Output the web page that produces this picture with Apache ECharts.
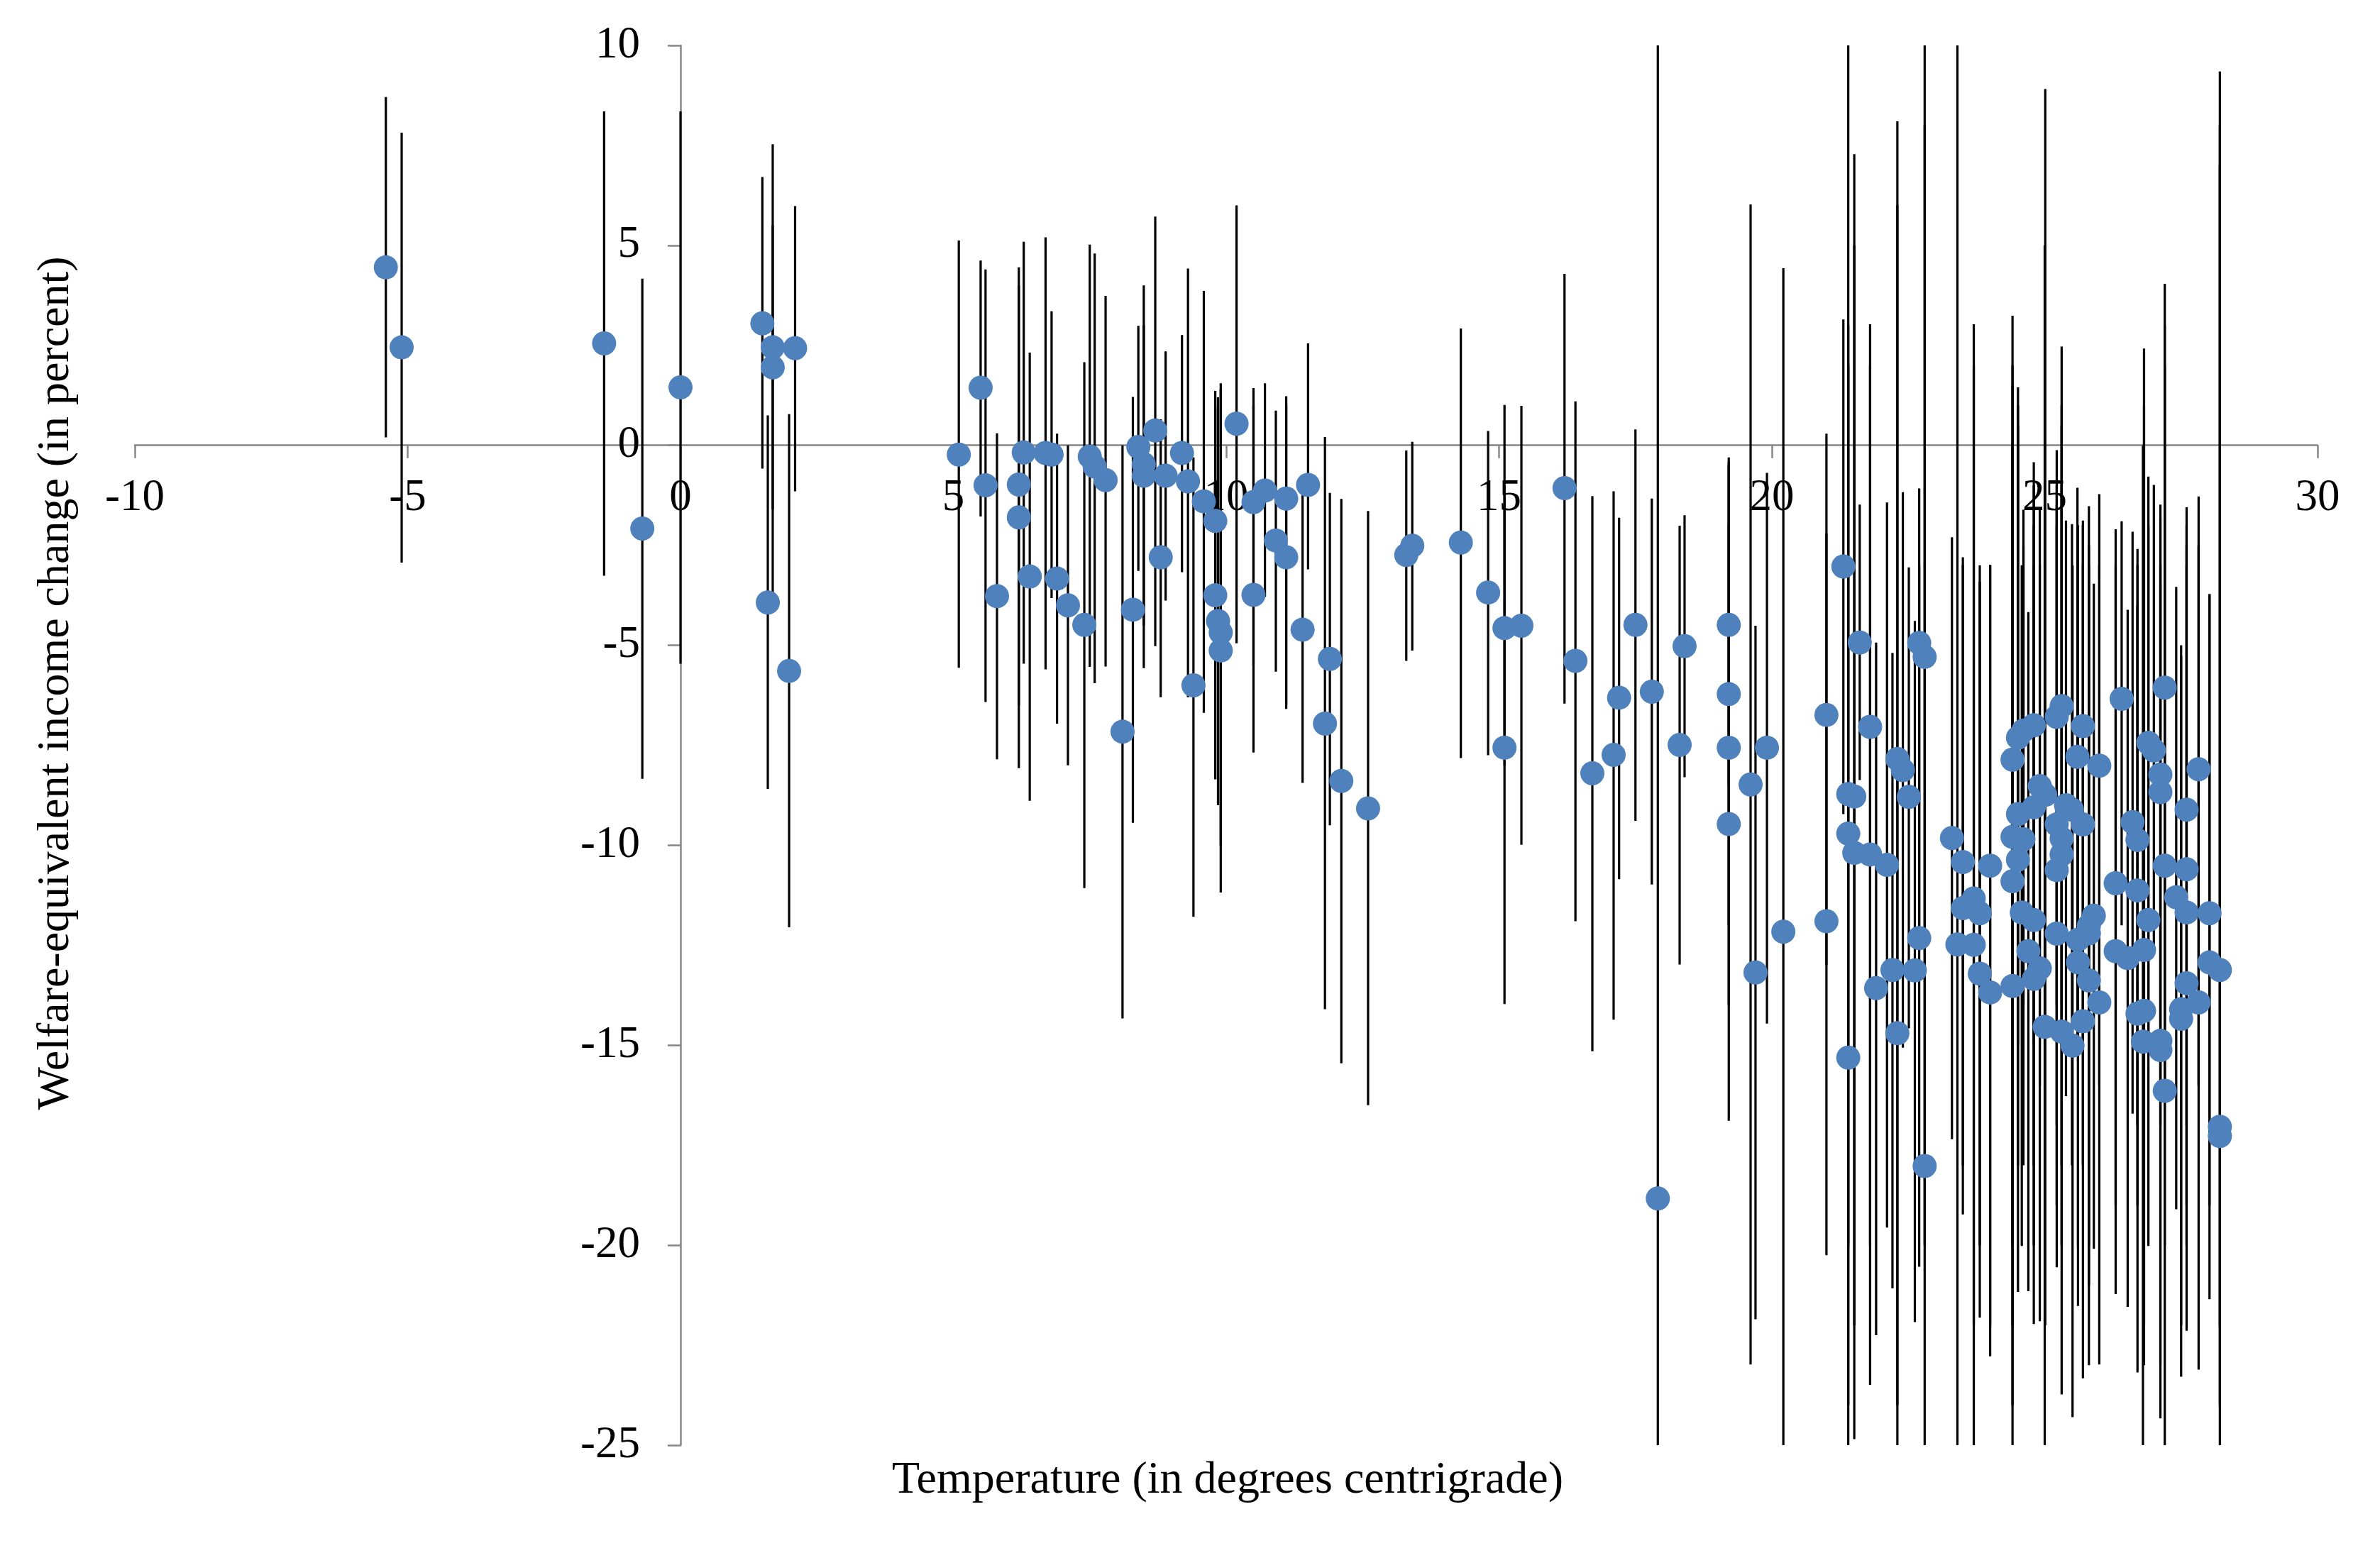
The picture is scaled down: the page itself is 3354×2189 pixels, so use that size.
<!DOCTYPE html>
<html>
<head>
<meta charset="utf-8">
<script src="https://cdn.jsdelivr.net/npm/echarts@6/dist/echarts.min.js"></script>
<style>
html,body{margin:0;padding:0;background:#fff;}
#chart{width:3354px;height:2189px;}
</style>
</head>
<body>
<div id="chart"></div>
<script>
// Temperature (degrees C)
const temperature = [
-5.40,-5.11,-1.40,-0.70,0.00,1.50,1.60,1.69,1.69,1.99,2.10,
5.10,5.50,5.59,5.80,6.20,6.20,6.29,6.40,6.69,6.80,6.90,7.10,7.40,7.50,7.59,7.79,
8.10,8.29,8.39,8.49,8.49,8.70,8.80,8.89,9.19,9.30,9.40,9.59,9.80,9.80,9.85,9.90,9.90,
10.19,10.50,10.50,10.71,10.91,11.10,11.10,11.40,11.50,11.81,11.90,12.11,12.60,13.30,13.41,
14.30,14.80,15.10,15.10,15.41,16.20,16.40,16.71,17.10,17.20,17.50,17.80,17.91,18.31,18.40,
19.21,19.21,19.21,19.21,19.61,19.70,19.91,20.21,21.00,21.00,
21.31,21.40,21.40,21.40,21.51,21.51,21.61,21.80,21.80,21.91,22.11,22.21,22.30,22.30,22.40,22.51,22.62,
22.70,22.70,22.80,22.80,23.30,23.40,23.50,23.50,23.70,23.70,23.81,23.81,24.00,24.00,
24.41,24.41,24.41,24.41,24.51,24.51,24.51,24.61,24.61,24.58,24.70,24.80,24.80,24.80,24.80,24.91,24.91,
25.01,25.00,25.22,25.22,25.22,25.22,25.31,25.31,25.31,25.31,25.39,25.50,25.51,25.60,25.61,25.61,
25.70,25.70,25.70,25.81,25.81,25.81,25.90,26.00,26.00,26.30,26.30,26.41,26.52,26.61,26.70,26.70,26.70,
26.82,26.82,26.80,26.90,26.90,27.00,27.12,27.12,27.12,27.12,27.20,27.20,27.20,27.41,27.50,27.50,
27.60,27.60,27.60,27.60,27.82,27.82,28.02,28.02,28.21,28.21,28.21
];
// Welfare-equivalent income change (percent)
const welfareChange = [
4.45,2.45,2.55,-2.08,1.45,3.05,-3.93,2.45,1.95,-5.64,2.43,
-0.23,1.44,-1.00,-3.77,-0.98,-1.80,-0.18,-3.28,-0.19,-0.23,-3.33,-4.00,-4.49,-0.28,-0.53,-0.87,
-7.16,-4.11,-0.04,-0.47,-0.76,0.37,-2.80,-0.76,-0.19,-0.90,-6.00,-1.40,-1.89,-3.75,-4.39,-4.68,-5.13,
0.54,-1.42,-3.74,-1.13,-2.38,-1.33,-2.80,-4.61,-0.99,-6.96,-5.34,-8.39,-9.08,-2.74,-2.51,
-2.43,-3.68,-4.57,-7.56,-4.51,-1.07,-5.39,-8.20,-7.74,-6.31,-4.49,-6.16,-18.83,-7.49,-5.02,
-4.49,-6.22,-7.56,-9.47,-8.48,-13.18,-7.56,-12.16,-6.74,-11.90,
-3.03,-8.72,-9.71,-15.31,-8.78,-10.19,-4.93,-7.04,-10.23,-13.57,-10.49,-13.12,-7.84,-14.70,-8.12,-8.79,-13.13,
-4.94,-12.32,-5.29,-18.02,-9.82,-12.48,-10.42,-11.57,-11.33,-12.49,-11.70,-13.21,-10.51,-13.68,
-7.86,-9.79,-10.90,-13.52,-7.31,-9.22,-10.36,-7.13,-9.85,-11.68,-12.65,-7.00,-9.05,-11.87,-13.34,-8.52,-13.08,
-8.74,-14.54,-6.79,-9.48,-10.62,-12.21,-6.52,-9.83,-10.23,-14.66,-9.00,-9.11,-15.01,-7.79,-12.36,-12.93,
-7.02,-9.48,-14.40,-12.01,-12.20,-13.38,-11.76,-8.01,-13.93,-10.95,-12.65,-6.34,-12.82,-9.42,-9.87,-11.13,-14.21,
-12.62,-14.14,-14.91,-7.44,-11.87,-7.63,-8.23,-8.67,-14.89,-15.12,-6.06,-10.51,-16.14,-11.30,-14.10,-14.34,
-9.11,-10.60,-11.68,-13.45,-8.10,-13.93,-11.70,-12.93,-13.12,-17.04,-17.27
];
// Upper end of the interval
const upperBound = [
8.71,7.82,8.35,4.17,8.35,6.71,0.75,7.53,5.50,0.78,5.98,
5.12,4.62,4.40,0.30,4.45,4.00,5.09,2.32,5.20,3.35,0.29,0.00,2.08,5.02,4.80,3.74,
0.00,1.21,2.99,4.00,3.00,5.72,0.65,2.35,2.76,4.42,-0.30,3.86,1.36,1.00,1.20,1.40,1.55,
6.00,1.43,1.00,1.55,0.87,1.23,1.00,-1.00,2.55,0.21,-1.19,-1.34,-1.64,-0.13,0.09,
2.92,0.36,1.01,-1.00,0.99,4.29,1.10,-1.27,-1.15,-1.81,0.40,-1.33,10,-2.01,-1.75,
-0.41,-0.50,-0.30,-2.00,6.02,-4.51,-0.69,4.43,0.29,-2.20,
3.15,10,3.00,2.00,7.28,5.00,-1.48,3.03,2.00,-4.93,-1.43,-5.19,8.10,6.00,-1.17,-3.05,-4.39,
-1.08,-3.00,10,8.00,-2.30,10,-2.80,-3.00,3.03,2.00,-3.41,-3.00,-2.99,-3.00,
3.24,2.00,1.50,0.00,1.45,0.50,1.00,-1.61,-2.50,-3.00,-4.17,-0.42,-1.00,-2.00,-3.00,-1.61,-3.00,
8.91,5.00,-0.12,-1.00,-1.50,-2.00,2.47,1.00,0.50,-1.00,-1.88,-1.97,-3.00,-1.06,-2.00,-3.00,
-1.88,-2.00,-3.00,-1.52,-2.50,-3.00,-3.46,-1.22,-3.00,-2.10,-3.00,-1.90,-4.11,-2.16,-2.59,-3.00,-4.00,
2.42,1.00,0.00,-0.78,-2.00,-0.99,-1.48,-1.80,-3.00,-3.50,4.04,3.00,2.00,-3.54,-5.27,-5.00,
-1.55,-2.00,-2.50,-3.00,-1.28,-2.50,-3.72,-3.72,9.35,8.00,7.00
];
// Lower end of the interval
const lowerBound = [
0.20,-2.93,-3.26,-8.34,-5.46,-0.58,-8.59,-3.70,-1.60,-12.05,-1.15,
-5.56,-1.78,-6.42,-7.85,-6.50,-8.07,-5.46,-8.89,-5.60,-3.82,-6.96,-8.00,-11.07,-5.54,-5.95,-5.53,
-14.33,-9.44,-3.14,-5.57,-4.50,-5.02,-6.30,-3.88,-3.17,-6.30,-11.79,-6.69,-5.50,-8.35,-9.00,-10.00,-11.18,
-4.95,-5.50,-7.68,-3.79,-5.66,-6.59,-6.50,-8.44,-3.10,-14.10,-9.50,-15.45,-16.50,-5.39,-5.13,
-7.82,-7.75,-8.00,-13.97,-9.99,-6.46,-11.90,-15.15,-14.36,-10.85,-9.39,-10.98,-25,-12.98,-8.30,
-8.50,-12.00,-14.00,-16.89,-22.98,-21.85,-14.46,-25,-13.00,-20.25,
-9.22,-25,-20.00,-24.00,-24.85,-22.00,-8.37,-23.49,-20.00,-22.25,-19.56,-21.08,-25,-24.00,-15.06,-14.58,-21.92,
-12.00,-20.54,-20.00,-25,-17.35,-25,-19.23,-18.00,-25,-22.00,-20.00,-21.81,-22.78,-22.00,
-25,-20.00,-22.00,-24.00,-15.00,-18.00,-21.17,-14.00,-18.00,-20.02,-21.15,-15.00,-18.00,-20.00,-21.97,-16.00,-21.90,
-22.00,-25,-14.00,-17.00,-19.00,-20.55,-15.00,-18.00,-20.00,-23.73,-16.27,-18.00,-24.30,-15.00,-20.00,-21.52,
-15.00,-18.00,-23.33,-20.00,-21.00,-23.00,-20.09,-16.00,-22.98,-19.00,-21.22,-12.00,-21.54,-16.71,-17.00,-19.00,-23.18,
-22.00,-23.00,-25,-15.00,-20.02,-12.50,-16.00,-17.00,-23.00,-24.33,-16.00,-20.00,-25,-19.10,-22.00,-23.29,
-17.00,-19.00,-20.00,-22.14,-16.00,-23.11,-19.00,-21.35,-22.00,-24.00,-25
];
const xTicks = {min: -10, max: 30, step: 5};
const yTicks = {min: -25, max: 10, step: 5};
const xTitle = 'Temperature (in degrees centrigrade)';
const yTitle = 'Welfare-equivalent income change (in percent)';

const pointData = temperature.map((t, i) => [t, welfareChange[i]]);
const barData = temperature.map((t, i) => [t, upperBound[i], lowerBound[i]]);

const FONT = '"Liberation Serif", "Times New Roman", serif';
const axisGray = '#868686';
const W = 3354, H = 2189;
const grid = {left: 190, right: 88, top: 64, bottom: 152};
const gridW = W - grid.left - grid.right;
const gridH = H - grid.top - grid.bottom;
// Move each axis (line, ticks and labels) onto the other axis' zero value
const xAxisOffset = -gridH * (0 - yTicks.min) / (yTicks.max - yTicks.min);
const yAxisOffset = -gridW * (0 - xTicks.min) / (xTicks.max - xTicks.min);

const chart = echarts.init(document.getElementById('chart'), null, {renderer: 'canvas'});
chart.setOption({
  animation: false,
  backgroundColor: '#ffffff',
  grid: Object.assign({containLabel: false, outerBoundsMode: 'none'}, grid),
  xAxis: {
    type: 'value', min: xTicks.min, max: xTicks.max, interval: xTicks.step,
    position: 'bottom', offset: xAxisOffset,
    splitLine: {show: false},
    axisLine: {show: true, onZero: false, lineStyle: {color: axisGray, width: 2.5}},
    axisTick: {show: true, length: 18, lineStyle: {color: axisGray, width: 2.5}},
    axisLabel: {fontFamily: FONT, fontSize: 63, color: '#000', margin: 43, hideOverlap: false}
  },
  yAxis: {
    type: 'value', min: yTicks.min, max: yTicks.max, interval: yTicks.step,
    position: 'left', offset: yAxisOffset,
    splitLine: {show: false},
    axisLine: {show: true, onZero: false, lineStyle: {color: axisGray, width: 2.5}},
    axisTick: {show: true, length: 18, lineStyle: {color: axisGray, width: 2.5}},
    axisLabel: {fontFamily: FONT, fontSize: 63, color: '#000', margin: 57, hideOverlap: false}
  },
  graphic: [
    {type: 'text', x: 79, y: 963, rotation: Math.PI / 2,
     style: {text: yTitle, font: '64px ' + FONT, fill: '#000', textAlign: 'center', textVerticalAlign: 'middle'}},
    {type: 'text', x: 1730, y: 2087,
     style: {text: xTitle, font: '64px ' + FONT, fill: '#000', textAlign: 'center', textVerticalAlign: 'middle'}}
  ],
  series: [
    {
      type: 'custom',
      z: 2,
      data: barData,
      encode: {x: 0, y: [1, 2]},
      renderItem: function (params, api) {
        const p1 = api.coord([api.value(0), api.value(1)]);
        const p2 = api.coord([api.value(0), api.value(2)]);
        return {type: 'line', shape: {x1: p1[0], y1: p1[1], x2: p2[0], y2: p2[1]},
                style: {stroke: '#000000', lineWidth: 3.2}};
      }
    },
    {
      type: 'scatter',
      z: 3,
      data: pointData,
      symbol: 'circle',
      symbolSize: 34,
      itemStyle: {color: '#4F81BD', opacity: 1}
    }
  ]
});
</script>
</body>
</html>
